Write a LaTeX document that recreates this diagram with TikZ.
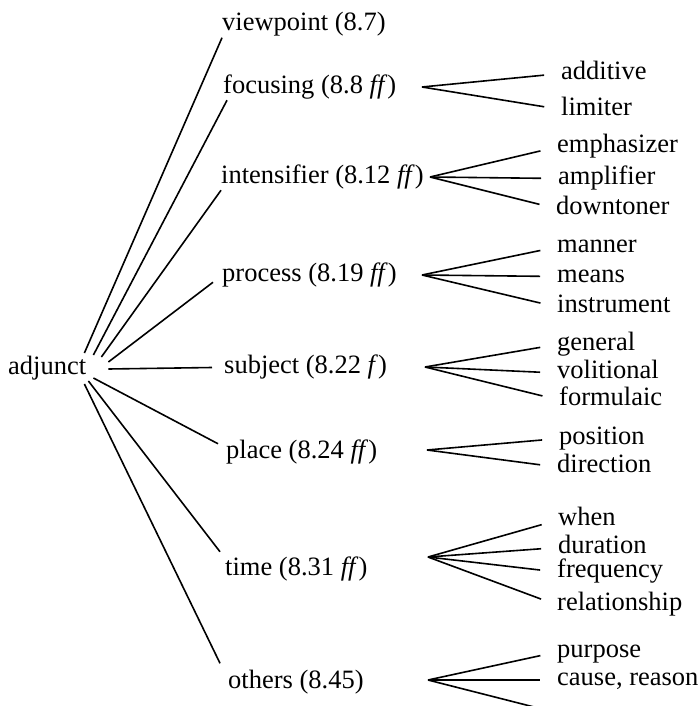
\documentclass[tikz,border=0pt]{standalone}
\usepackage{fontspec}
\setmainfont{Liberation Serif}
\usepackage{tikz}

\begin{document}
\begin{tikzpicture}[x=1pt, y=-1pt,
        every node/.style={font=\fontsize{26.5}{30}\selectfont, inner xsep=0pt, inner ysep=0pt,
            text height=18.5pt, text depth=6.6pt},
        cat/.style={anchor=west},
        leaf/.style={anchor=west},
        branch/.style={line width=1.6pt},
        twig/.style={line width=1.6pt, shorten >=17pt}]

        \useasboundingbox (0,0) rectangle (700,706);

        % the root and its classes
        \node[cat] (adjunct) at (8,369) {adjunct};
        \node[cat] (viewpoint) at (222,25) {viewpoint (8.7)};
        \node[cat] (focusing) at (223,87.5) {focusing (8.8 \textit{ff})};
        \node[cat] (intensifier) at (221,177.5) {intensifier (8.12 \textit{ff})};
        \node[cat] (process) at (222,275.5) {process (8.19 \textit{ff})};
        \node[cat] (subject) at (224,367.5) {subject (8.22 \textit{f})};
        \node[cat] (place) at (226,452.5) {place (8.24 \textit{ff})};
        \node[cat] (time) at (225,569.5) {time (8.31 \textit{ff})};
        \node[cat] (others) at (228,683) {others (8.45)};

        % branches from adjunct
        \draw[branch] ([shift={(-2,-16)}]adjunct.east) -- (viewpoint.south west);
        \draw[branch] ([shift={(7,-14)}]adjunct.east) -- ([xshift=4pt]focusing.south west);
        \draw[branch] ([shift={(15,-12)}]adjunct.east) -- (intensifier.south west);
        \draw[branch] ([shift={(22,-7)}]adjunct.east) -- ([shift={(-9,-6)}]process.south west);
        \draw[branch] ([xshift=22pt]adjunct.east) -- ([xshift=-12pt]subject.west);
        \draw[branch] ([shift={(7,9)}]adjunct.east) -- ([shift={(-8,4)}]place.north west);
        \draw[branch] ([shift={(2,12)}]adjunct.east) -- ([shift={(-5,-5)}]time.north west);
        \draw[branch] ([shift={(-2,15)}]adjunct.east) -- ([shift={(-8,-7)}]others.north west);

        % subclasses
        \node[leaf] (additive) at (561,73.5) {additive};
        \node[leaf] (limiter) at (561,109.5) {limiter};

        \node[leaf] (emphasizer) at (557,147) {emphasizer};
        \node[leaf] (amplifier) at (558,178.5) {amplifier};
        \node[leaf] (downtoner) at (556,208.5) {downtoner};

        \node[leaf] (manner) at (557,247) {manner};
        \node[leaf] (means) at (557,276.5) {means};
        \node[leaf] (instrument) at (557,307) {instrument};

        \node[leaf] (general) at (557,344.5) {general};
        \node[leaf] (volitional) at (557,373) {volitional};
        \node[leaf] (formulaic) at (559,400) {formulaic};

        \node[leaf] (position) at (559,438.5) {position};
        \node[leaf] (direction) at (557,467) {direction};

        \node[leaf] (when) at (558,520) {when};
        \node[leaf] (duration) at (558,547.5) {duration};
        \node[leaf] (frequency) at (557,572) {frequency};
        \node[leaf] (relationship) at (557,605) {relationship};

        \node[leaf] (purpose) at (557,652) {purpose};
        \node[leaf] (cause) at (557,680) {cause, reason};

        % fan points
        \coordinate (f-focus) at (422,87);
        \coordinate (f-intens) at (430,177);
        \coordinate (f-process) at (422,275);
        \coordinate (f-subject) at (425,367);
        \coordinate (f-place) at (427,450);
        \coordinate (f-time) at (428,557);
        \coordinate (f-others) at (428,680);
        \coordinate (others-end) at (538,708);

        \draw[twig] (f-focus) -- (additive.west);
        \draw[twig] (f-focus) -- (limiter.west);

        \draw[twig] (f-intens) -- (emphasizer.west);
        \draw[twig] (f-intens) -- (amplifier.west);
        \draw[twig] (f-intens) -- (downtoner.west);

        \draw[twig] (f-process) -- (manner.west);
        \draw[twig] (f-process) -- (means.west);
        \draw[twig] (f-process) -- (instrument.west);

        \draw[twig] (f-subject) -- (general.west);
        \draw[twig] (f-subject) -- (volitional.west);
        \draw[twig] (f-subject) -- (formulaic.west);

        \draw[twig] (f-place) -- (position.west);
        \draw[twig] (f-place) -- (direction.west);

        \draw[twig] (f-time) -- (when.west);
        \draw[twig] (f-time) -- (duration.west);
        \draw[twig] (f-time) -- (frequency.west);
        \draw[twig] (f-time) -- (relationship.west);

        \draw[twig] (f-others) -- (purpose.west);
        \draw[twig] (f-others) -- (cause.west);
        \draw[branch] (f-others) -- (others-end);
\end{tikzpicture}
\end{document}
